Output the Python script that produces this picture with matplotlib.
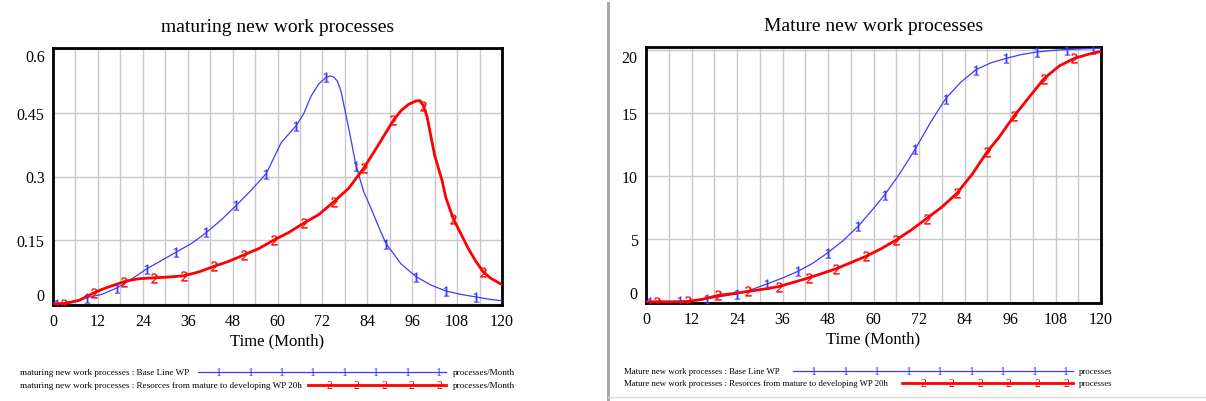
import numpy as np
import matplotlib.pyplot as plt
from matplotlib.lines import Line2D

plt.rcParams['font.family'] = 'Liberation Serif'
plt.rcParams['mathtext.fontset'] = 'custom'
plt.rcParams['mathtext.rm'] = 'Liberation Serif'
plt.rcParams['mathtext.it'] = 'Liberation Serif'

# ---- left panel: maturing new work processes (processes/Month)
t_rate_base = [0, 1, 5, 9, 13, 17, 21, 25, 29, 33, 37, 41, 45, 49, 53, 57, 61, 65, 67, 69,
               71, 73, 74, 75, 76, 77, 79, 81, 83, 85, 87, 89, 93, 97, 101, 105, 109, 113, 117, 120]
rate_base = [0.0, 0.0, 0.005, 0.014, 0.022, 0.037, 0.058, 0.082, 0.102, 0.122, 0.142, 0.168,
             0.198, 0.232, 0.268, 0.307, 0.38, 0.42, 0.448, 0.49, 0.518, 0.534, 0.537, 0.535,
             0.525, 0.5, 0.415, 0.325, 0.265, 0.225, 0.182, 0.142, 0.094, 0.064, 0.044, 0.03,
             0.022, 0.016, 0.01, 0.007]
t_rate_res = [0, 3, 7, 11, 14, 17, 19, 21, 23, 27, 31, 35, 39, 43, 47, 51, 55, 59, 63, 67, 71,
              75, 79, 83, 87, 91, 93, 95, 97, 98, 99, 100, 102, 104, 105, 107, 109, 111, 113,
              115, 117, 120]
rate_res = [0.0, 0.0, 0.008, 0.026, 0.037, 0.046, 0.052, 0.056, 0.059, 0.061, 0.063, 0.066,
            0.075, 0.088, 0.1, 0.115, 0.13, 0.15, 0.168, 0.19, 0.21, 0.24, 0.272, 0.319, 0.375,
            0.433, 0.455, 0.47, 0.478, 0.479, 0.467, 0.44, 0.35, 0.29, 0.25, 0.2, 0.165, 0.13,
            0.1, 0.075, 0.06, 0.045]
marks_rate_base = [1, 9, 17, 25, 33, 41, 49, 57, 65, 73, 81, 89, 97, 105, 113]
marks_rate_res = [3, 11, 19, 27, 35, 43, 51, 59, 67, 75, 83, 91, 99, 107, 115]

# ---- right panel: Mature new work processes (processes)
t_stock_base = [0, 1, 5, 9, 12, 16, 20, 24, 28, 32, 36, 40, 44, 48, 52, 56, 60, 63, 67, 71, 75,
                79, 83, 87, 91, 95, 99, 103, 107, 111, 115, 118, 120]
stock_base = [0.0, 0.0, 0.0, 0.02, 0.08, 0.24, 0.42, 0.63, 0.98, 1.42, 1.88, 2.4, 3.05, 3.9,
              4.85, 6.0, 7.4, 8.5, 10.2, 12.1, 14.2, 16.1, 17.4, 18.4, 18.95, 19.3, 19.6, 19.8,
              19.92, 20.0, 20.05, 20.08, 20.1]
t_stock_res = [0, 3, 7, 11, 15, 19, 23, 27, 31, 35, 39, 43, 46, 50, 54, 58, 62, 66, 70, 74, 78,
               82, 86, 90, 93, 97, 101, 105, 109, 113, 117, 120]
stock_res = [0.0, 0.0, 0.0, 0.02, 0.2, 0.5, 0.65, 0.82, 1.0, 1.2, 1.55, 1.9, 2.2, 2.6, 3.1, 3.6,
             4.2, 4.9, 5.7, 6.6, 7.5, 8.6, 10.1, 11.9, 13.0, 14.7, 16.2, 17.7, 18.7, 19.3, 19.65,
             19.85]
marks_stock_base = [1, 9, 16, 24, 32, 40, 48, 56, 63, 71, 79, 87, 95, 103, 111, 118]
marks_stock_res = [3, 11, 19, 27, 35, 43, 50, 58, 66, 74, 82, 90, 97, 105, 113]

BLUE = '#3c3cff'
RED = '#ff0000'
W, H = 1206, 402


def panel(ax, title, t1, y1, m1, t2, y2, m2, yticks, ylabels, ylim):
    ax.plot(t1, y1, color=BLUE, lw=0.9, marker='$1$', ms=7, mew=0.3,
            markevery=list(np.isin(t1, m1)), zorder=3)
    ax.plot(t2, y2, color=RED, lw=2.0, marker='$2$', ms=7, mew=0.3,
            markevery=list(np.isin(t2, m2)), zorder=4)
    ax.set_xlim(0, 120)
    ax.set_ylim(*ylim)
    ax.set_xticks(np.arange(0, 121, 6), minor=False)
    ax.set_xticklabels([str(v) if v % 12 == 0 else '' for v in range(0, 121, 6)], fontsize=11.5)
    ax.set_yticks(yticks)
    ax.set_yticklabels(ylabels, fontsize=11.5)
    labs = ax.get_yticklabels()
    labs[0].set_va('bottom')
    labs[-1].set_va('top')
    ax.tick_params(length=0, pad=6)
    ax.grid(True, color='#c8c8c8', lw=1.0)
    for s in ax.spines.values():
        s.set_linewidth(2.0)
        s.set_color('black')
    ax.set_xlabel('Time (Month)', fontsize=12, labelpad=2)
    ax.set_title(title, fontsize=14, pad=12)


fig = plt.figure(figsize=(W / 100, H / 100), dpi=100)
ax1 = fig.add_axes([53 / W, 1 - 306 / H, 449 / W, 257 / H])
ax2 = fig.add_axes([646 / W, 1 - 304 / H, 455 / W, 256 / H])

panel(ax1, 'maturing new work processes', t_rate_base, rate_base, marks_rate_base,
      t_rate_res, rate_res, marks_rate_res,
      [0, 0.15, 0.3, 0.45, 0.6], ['0', '0.15', '0.3', '0.45', '0.6'], (-0.003, 0.603))
panel(ax2, 'Mature new work processes', t_stock_base, stock_base, marks_stock_base,
      t_stock_res, stock_res, marks_stock_res,
      [0, 5, 10, 15, 20], ['0', '5', '10', '15', '20'], (-0.1, 20.2))

# separator between the two panels
fig.add_artist(Line2D([608 / W, 608 / W], [0.005, 0.99], transform=fig.transFigure,
                      color='#a8a8a8', lw=2.2))
fig.add_artist(Line2D([608 / W, 1.0], [1 - 398 / H, 1 - 398 / H], transform=fig.transFigure,
                      color='#d8d8d8', lw=1.0))


def legend_row(x_text, y, text, x0, x1, n, glyph, color, lw, unit, x_unit, fs):
    fig.text(x_text / W, 1 - y / H, text, fontsize=fs, va='center', ha='left')
    fig.add_artist(Line2D([x0 / W, x1 / W], [1 - y / H, 1 - y / H], transform=fig.transFigure,
                          color=color, lw=lw))
    for xm in np.linspace(x0 + 21, x1 - 7, n):
        fig.text(xm / W, 1 - y / H, glyph, fontsize=8.5, color=color, ha='center', va='center')
    fig.text(x_unit / W, 1 - y / H, unit, fontsize=fs, va='center', ha='left')


legend_row(20, 373, 'maturing new work processes : Base Line WP', 198, 446, 8, '1', BLUE, 0.9,
           'processes/Month', 453, 6.6)
legend_row(20, 386, 'maturing new work processes : Resorces from mature to developing WP 20h',
           308, 446, 5, '2', RED, 2.0, 'processes/Month', 453, 6.6)
legend_row(624, 372, 'Mature new work processes : Base Line WP', 793, 1073, 9, '1', BLUE, 0.9,
           'processes', 1079, 6.3)
legend_row(624, 384, 'Mature new work processes : Resorces from mature to developing WP 20h',
           902, 1073, 6, '2', RED, 2.0, 'processes', 1079, 6.3)

fig.savefig('out.png', dpi=100)
